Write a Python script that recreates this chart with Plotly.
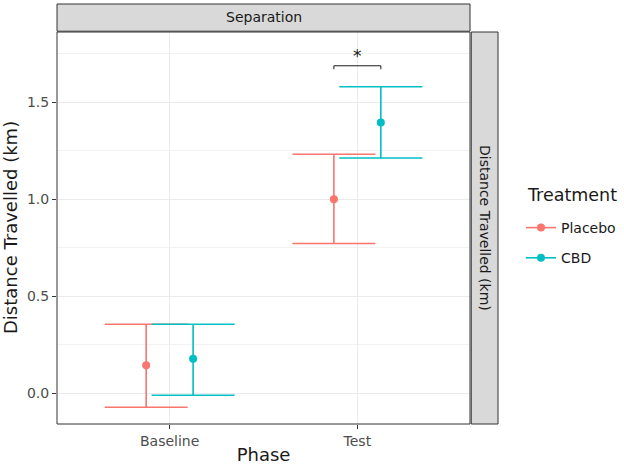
import plotly.graph_objects as go

phases = ["Baseline", "Test"]
treatments = ["Placebo", "CBD"]
colors = {"Placebo": "#F8766D", "CBD": "#00BFC4"}
means = {"Placebo": [0.144, 1.000], "CBD": [0.178, 1.395]}
upper = {"Placebo": [0.356, 1.231], "CBD": [0.356, 1.579]}
lower = {"Placebo": [-0.072, 0.772], "CBD": [-0.010, 1.212]}
y_ticks = [0.0, 0.5, 1.0, 1.5]
sig_phase = "Test"
sig_y = 1.687
sig_label = "*"
dodge = 0.125

W, H = 624, 465
PL, PT, PW, PH = 57, 32, 413, 392


def px_x(px):  # window pixel -> paper x
    return (px - PL) / PW


def px_y(py):  # window pixel -> paper y
    return 1 - (py - PT) / PH


fig = go.Figure()
offsets = {"Placebo": -dodge, "CBD": dodge}
for t in treatments:
    xs = [i + 1 + offsets[t] for i in range(len(phases))]
    fig.add_trace(go.Scatter(
        x=xs, y=means[t], mode="markers", name=t, showlegend=False,
        marker=dict(color=colors[t], size=8),
        error_y=dict(type="data", symmetric=False,
                     array=[u - m for u, m in zip(upper[t], means[t])],
                     arrayminus=[m - l for m, l in zip(means[t], lower[t])],
                     color=colors[t], thickness=1.6, width=41.5),
    ))
    fig.add_trace(go.Scatter(
        x=[None], y=[None], mode="lines+markers", name=t, legendgroup=t,
        marker=dict(color=colors[t], size=8),
        line=dict(color=colors[t], width=1.6),
    ))

# significance bracket
si = phases.index(sig_phase) + 1
x0, x1 = si - dodge, si + dodge
fig.add_shape(type="path", xref="x", yref="y",
              path=f"M {x0} {sig_y-0.018} L {x0} {sig_y} L {x1} {sig_y} L {x1} {sig_y-0.018}",
              line=dict(color="#1a1a1a", width=1))
fig.add_annotation(x=si, y=sig_y, xref="x", yref="y", text=sig_label, showarrow=False,
                   xanchor="center", yanchor="bottom", yshift=-2, font=dict(size=17, color="#1a1a1a"))

# panel border and strips
fig.add_shape(type="rect", xref="paper", yref="paper", x0=0, x1=1, y0=0, y1=1,
              line=dict(color="#333333", width=1), fillcolor="rgba(0,0,0,0)", layer="above")
fig.add_shape(type="rect", xref="paper", yref="paper", x0=0, x1=1, y0=1.002, y1=1 + 28 / PH,
              line=dict(color="#333333", width=1), fillcolor="#D9D9D9")
fig.add_shape(type="rect", xref="paper", yref="paper", x0=1.003, x1=1 + 28 / PW, y0=0, y1=1,
              line=dict(color="#333333", width=1), fillcolor="#D9D9D9")
fig.add_annotation(x=0.5, y=1 + 14.5 / PH, xref="paper", yref="paper", text="Separation",
                   showarrow=False, xanchor="center", yanchor="middle",
                   font=dict(size=14, color="#1A1A1A"))
fig.add_annotation(x=1 + 15 / PW, y=0.5, xref="paper", yref="paper", text="Distance Travelled (km)",
                   showarrow=False, textangle=90, xanchor="center", yanchor="middle",
                   font=dict(size=14, color="#1A1A1A"))
# y-axis title
fig.add_annotation(x=px_x(10), y=0.5, xref="paper", yref="paper", text="Distance Travelled (km)",
                   showarrow=False, textangle=-90, xanchor="center", yanchor="middle",
                   font=dict(size=18, color="#1A1A1A"))
# legend title
fig.add_annotation(x=px_x(525), y=px_y(195), xref="paper", yref="paper", text="Treatment",
                   showarrow=False, xanchor="left", yanchor="middle",
                   font=dict(size=17.5, color="#1A1A1A"))

fig.update_layout(
    width=W, height=H,
    margin=dict(l=PL, r=W - PL - PW, t=PT, b=H - PT - PH, autoexpand=False),
    paper_bgcolor="white", plot_bgcolor="white",
    font=dict(family="DejaVu Sans", color="#1A1A1A"),
    legend=dict(x=px_x(521), y=px_y(212), xanchor="left", yanchor="top",
                bgcolor="rgba(0,0,0,0)",
                font=dict(size=14), tracegroupgap=9, itemwidth=30),
    xaxis=dict(range=[0.4, 2.6], tickvals=[1, 2], ticktext=phases, automargin=False,
               showgrid=True, gridcolor="#EBEBEB", gridwidth=1.2, zeroline=False,
               ticks="outside", ticklen=4, tickcolor="#333333",
               tickfont=dict(size=14, color="#4D4D4D"),
               title=dict(text="Phase", font=dict(size=18), standoff=6)),
    yaxis=dict(range=[-0.158, 1.861], tickvals=y_ticks, automargin=False,
               ticktext=[f"{v:.1f}" for v in y_ticks],
               showgrid=True, gridcolor="#EBEBEB", gridwidth=1.2, zeroline=False,
               minor=dict(dtick=0.25, tick0=0.25, showgrid=True, gridcolor="#F2F2F2", gridwidth=0.6),
               ticks="outside", ticklen=4, tickcolor="#333333",
               tickfont=dict(size=14, color="#4D4D4D")),
)

fig.write_html("out.html", config={"displayModeBar": False},
               post_script="document.body.style.margin='0';document.body.style.overflow='hidden';")
